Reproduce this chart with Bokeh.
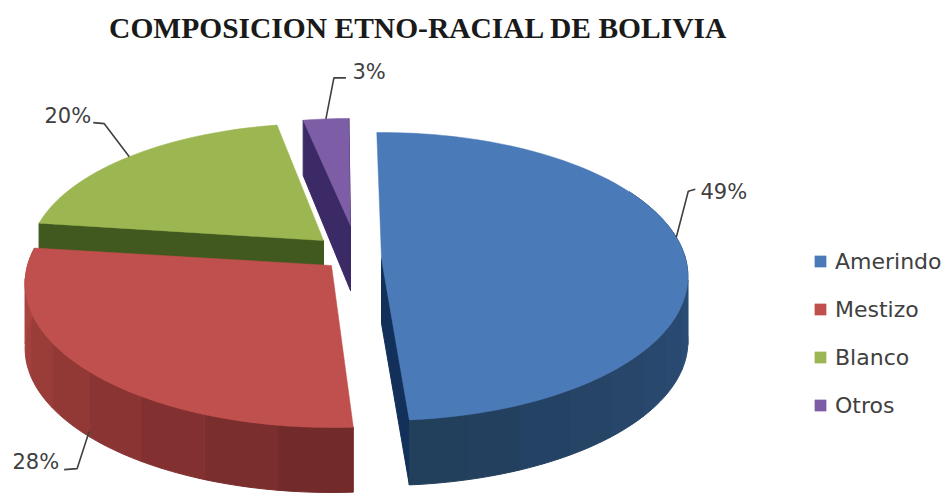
import math
from bokeh.plotting import figure
from bokeh.models import Legend, LegendItem
from bokeh.core.properties import value
from bokeh.embed import file_html
from bokeh.resources import INLINE

TITLE = "COMPOSICION ETNO-RACIAL DE BOLIVIA"
categories = ["Amerindo", "Mestizo", "Blanco", "Otros"]
values = [49, 28, 20, 3]

# style / layout of the projected pie
face_colors = ["#4a7ab8", "#c0504d", "#9cb651", "#7d5da5"]
cut_colors = ["#12305a", "#722a2a", "#41591f", "#3b2a66"]
wall_from = ["#2f5282", "#aa443f", "#41591f", "#3b2a66"]
wall_to = ["#223f5c", "#722a2a", "#41591f", "#3b2a66"]
tips = [(381, 258), (331, 265), (323, 240), (350, 225)]
scale_x = [1.0, 1.0, 0.96, 0.9]
scale_y = [1.0, 1.0, 0.93, 0.85]
angle_shift = [0, 1.0, 1.5, 0.6]
RX, RY, PERSP, DEPTH = 304, 141.75, 0.125, 65
START = -1.0
# leader: (start angle shift, elbow dx, elbow dy, end dx, end dy, drop onto lower rim, label x, label y)
leaders = [(-6, 12, -46, 19, -48, False, 700, 191),
           (0, -12, 37, -25, 38, True, 12, 461),
           (0, -25, -33, -36, -34, False, 44, 115),
           (0, 8, -41, 20, -41, False, 352, 71)]


def rim(i, deg, drop=0.0):
    t = math.radians(deg)
    u, v = math.sin(t), math.cos(t)
    w = 1 / (1 + PERSP * v)
    return (tips[i][0] + RX * scale_x[i] * u * w,
            tips[i][1] - RY * scale_y[i] * v * w + drop)


def depth(deg):
    return DEPTH - 10 * max(math.cos(math.radians(deg)), 0)


def mix(a, b, f):
    ca = [int(a[k:k + 2], 16) for k in (1, 3, 5)]
    cb = [int(b[k:k + 2], 16) for k in (1, 3, 5)]
    return "#%02x%02x%02x" % tuple(round(x + (y - x) * f) for x, y in zip(ca, cb))


p = figure(width=947, height=502, x_range=(0, 947), y_range=(502, 0),
           output_backend="svg", toolbar_location=None, min_border=0)
p.axis.visible = False
p.grid.visible = False
p.outline_line_color = None
p.background_fill_color = "#ffffff"

total = sum(values)
spans = []
a = START
for i, val in enumerate(values):
    sweep = 360 * val / total
    spans.append((a + angle_shift[i], a + angle_shift[i] + sweep))
    a += sweep

faces = [None] * 4
for i in [3, 2, 1, 0]:
    a0, a1 = spans[i]
    tx, ty = tips[i]
    # cut walls (the ones that look toward the viewer)
    if i in (0, 3):
        ex, ey = rim(i, a1 if i == 0 else a0)
        d_end = depth(a1 if i == 0 else a0)
        p.patch([tx, ex, ex, tx], [ty, ey, ey + d_end, ty + DEPTH],
                fill_color=cut_colors[i], line_color=cut_colors[i])
    if i == 2:
        ex, ey = rim(i, a0)
        p.patch([tx, ex, ex, tx], [ty, ey, ey + DEPTH, ty + DEPTH],
                fill_color=cut_colors[i], line_color=cut_colors[i])
    if i == 3:
        ex, ey = rim(i, a1)
        p.patch([tx, ex, ex, tx], [ty, ey, ey + depth(a1), ty + DEPTH],
                fill_color=cut_colors[i], line_color=cut_colors[i])
    # outer wall in bands
    if i in (0, 1):
        bands = 12 if i == 0 else 8
        lo = max(a0, 60) if i == 0 else a0
        for b in range(bands):
            s0 = lo + (a1 - lo) * b / bands
            s1 = lo + (a1 - lo) * (b + 1) / bands
            f = b / (bands - 1)
            if i == 1:
                f = 1 - f
            col = mix(wall_from[i], wall_to[i], f)
            steps = [s0 + (s1 - s0) * k / 6 for k in range(7)]
            top = [rim(i, s) for s in steps]
            bot = [rim(i, s, depth(s)) for s in reversed(steps)]
            p.patch([q[0] for q in top + bot], [q[1] for q in top + bot],
                    fill_color=col, line_color=col)
    # top face
    n = max(8, int((a1 - a0) / 2))
    arc = [rim(i, a0 + (a1 - a0) * k / n) for k in range(n + 1)]
    faces[i] = p.patch([tx] + [q[0] for q in arc], [ty] + [q[1] for q in arc],
                       fill_color=face_colors[i], line_color=face_colors[i], line_width=0.5)

# leader lines and value labels
for i, (a0, a1) in enumerate(spans):
    shift, ex, ey, fx, fy, low, lx, ly = leaders[i]
    mid = (a0 + a1) / 2 + shift
    sx, sy = rim(i, mid, depth(mid) - 5 if low else 0)
    p.line([sx, sx + ex, sx + fx], [sy, sy + ey, sy + fy], line_color="#404040", line_width=1.6)
    p.text([lx], [ly], text=[f"{values[i]}%"], text_font=value("DejaVu Sans"),
           text_font_size="21px", text_color="#404040",
           text_baseline="middle", text_align="left")

p.text([418], [27], text=[TITLE], text_font=value("Liberation Serif"), text_font_style="bold",
       text_font_size="29.5px", text_color="#1a1a1a", text_align="center", text_baseline="middle")

legend = Legend(items=[LegendItem(label=c, renderers=[faces[i]]) for i, c in enumerate(categories)],
                location=(813, 84), orientation="vertical", spacing=22,
                glyph_width=14, glyph_height=14, label_standoff=8,
                label_text_font="DejaVu Sans", label_text_font_size="22px", label_text_color="#404040",
                background_fill_alpha=0, border_line_color=None, padding=0, margin=0,
                label_height=26)
p.add_layout(legend, "center")

open("out.html", "w").write(file_html(p, INLINE))
